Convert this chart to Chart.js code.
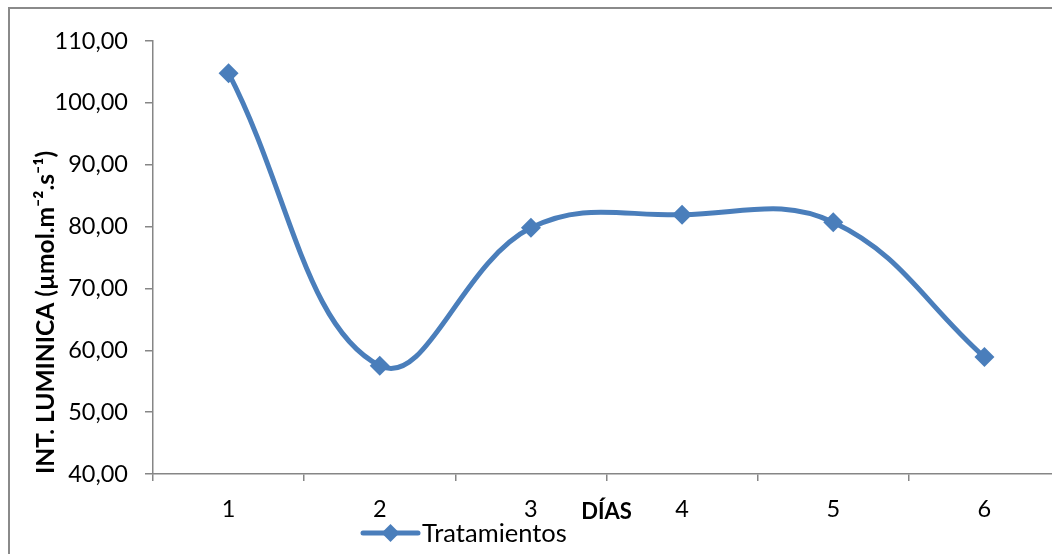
<!DOCTYPE html>
<html>
<head>
<meta charset="utf-8">
<script src="https://cdn.jsdelivr.net/npm/chart.js@4"></script>
<style>
  html, body { margin: 0; padding: 0; overflow: hidden; background: #fff; }
  #wrap { position: relative; width: 1052px; height: 554px; overflow: hidden; }
  #frame { position: absolute; left: 8px; top: 7px; width: 1200px; height: 700px;
           border: 2px solid #8a8a8a; pointer-events: none; }
  canvas { position: absolute; left: 0; top: 0; }
</style>
</head>
<body>
<div id="wrap">
  <canvas id="chart" width="1070" height="554"></canvas>
  <div id="frame"></div>
</div>
<script>
'use strict'

// data
const days = ['1', '2', '3', '4', '5', '6'];
const tratamientos = [104.8, 57.5, 79.8, 81.9, 80.7, 58.9];
const yTicks = [40, 50, 60, 70, 80, 90, 100, 110];

const lineColor = '#4a7ebb';
const axisColor = '#868686';
const font = 'Lato';

// legend like Excel: line with diamond, then the name
const excelLegend = {
    id: 'excelLegend',
    afterDraw(chart) {
        const ctx = chart.ctx;
        const x0 = 363, x1 = 418, y = 533;
        ctx.save();
        ctx.strokeStyle = lineColor;
        ctx.lineWidth = 5;
        ctx.lineCap = 'round';
        ctx.beginPath();
        ctx.moveTo(x0, y);
        ctx.lineTo(x1, y);
        ctx.stroke();
        const cx = (x0 + x1) / 2, r = 9;
        ctx.fillStyle = lineColor;
        ctx.beginPath();
        ctx.moveTo(cx - r, y);
        ctx.lineTo(cx, y - r);
        ctx.lineTo(cx + r, y);
        ctx.lineTo(cx, y + r);
        ctx.closePath();
        ctx.fill();
        ctx.fillStyle = '#000';
        ctx.font = '25.5px ' + font;
        ctx.textBaseline = 'middle';
        ctx.textAlign = 'left';
        ctx.fillText(chart.data.datasets[0].label, x1 + 4, y + 1);
        ctx.restore();
    }
};

const ctx = document.getElementById('chart').getContext('2d');
const chart = new Chart(ctx, {
    type: 'line',
    data: {
        labels: days,
        datasets: [{
            label: 'Tratamientos',
            data: tratamientos,
            borderColor: lineColor,
            backgroundColor: lineColor,
            borderWidth: 5,
            tension: 0.4,
            fill: false,
            pointStyle: 'rectRot',
            pointRadius: 10,
            pointBorderWidth: 0,
            pointBackgroundColor: lineColor
        }]
    },
    options: {
        responsive: false,
        animation: false,
        events: [],
        layout: { padding: { top: 41, left: 0, right: 0, bottom: 0 } },
        plugins: {
            legend: { display: false },
            tooltip: { enabled: false }
        },
        scales: {
            x: {
                offset: true,
                afterFit: s => { s.height = 80; },
                grid: { offset: true, drawOnChartArea: false, drawTicks: true, tickLength: 7, color: axisColor, lineWidth: 1.5 },
                border: { color: axisColor, width: 1.5 },
                ticks: { color: '#000', font: { family: font, size: 23.5 }, padding: 14, maxRotation: 0 },
                title: {
                    display: true,
                    text: 'DÍAS',
                    color: '#000',
                    font: { family: font, size: 22, weight: 'bold' },
                    padding: { top: 0, bottom: 29 }
                }
            },
            y: {
                min: 40,
                max: 110,
                afterFit: s => { s.width = 153; },
                afterBuildTicks: s => { s.ticks = yTicks.map(v => ({ value: v })); },
                grid: { drawOnChartArea: false, drawTicks: true, tickLength: 8, color: axisColor, lineWidth: 1.5 },
                border: { color: axisColor, width: 1.5 },
                ticks: {
                    color: '#000',
                    font: { family: font, size: 23.5 },
                    padding: 17,
                    callback: v => v.toFixed(2).replace('.', ',')
                },
                title: {
                    display: true,
                    text: 'INT. LUMINICA (µmol.m⁻².s⁻¹)',
                    align: 'start',
                    color: '#000',
                    font: { family: font, size: 24.5, weight: 'bold' },
                    padding: { top: 31, bottom: 0 }
                }
            }
        }
    },
    plugins: [excelLegend]
});
</script>
</body>
</html>
